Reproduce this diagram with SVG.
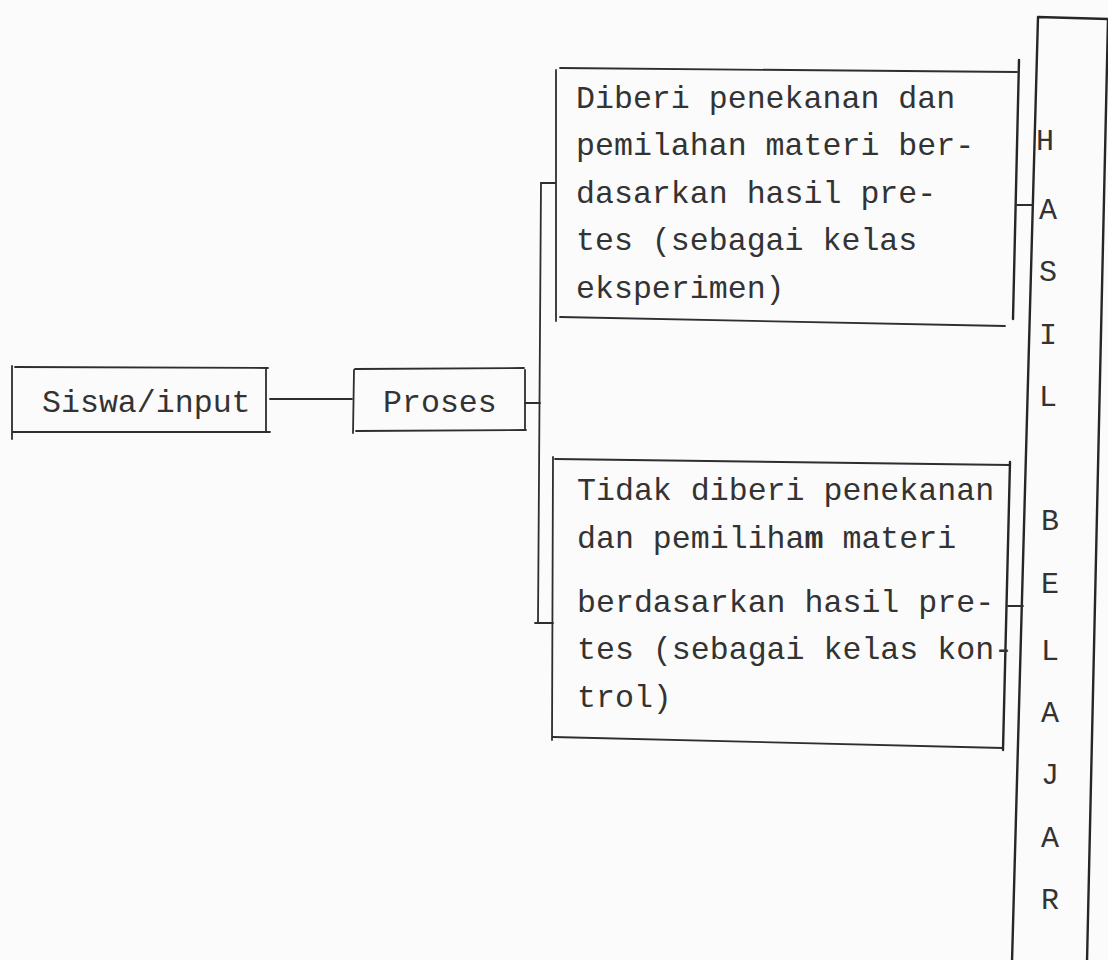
<svg xmlns="http://www.w3.org/2000/svg" width="1108" height="960" viewBox="0 0 1108 960">
<style>
.bg{fill:#fbfbfb}
.ln{stroke:#2e2e2e;stroke-width:1.8;fill:none;stroke-linecap:round}
.thick{stroke:#262626;stroke-width:2.4;fill:none;stroke-linecap:round}
.tx{font-family:"Liberation Mono","DejaVu Sans Mono",monospace;font-size:31.6px;fill:#333}
.col{font-family:"Liberation Mono","DejaVu Sans Mono",monospace;font-size:30px;fill:#333;text-anchor:middle}
</style>
<rect class="bg" x="0" y="0" width="1108" height="960"/>

<g id="node-siswa">
<path class="ln" d="M12 366 L12 439 M15 367 L268 368 M266 369 L266 431 M13 432 L270 432"/>
<text class="tx" x="42" y="412">Siswa/input</text>
</g>

<g id="node-proses">
<path class="ln" d="M354 370 L353 433 M355 369 L524 368 M525 370 L525 430 M356 431 L526 430"/>
<text class="tx" x="383" y="412">Proses</text>
</g>

<g id="node-eksperimen">
<path class="ln" d="M560 68 L1017 72 M556 70 L556 321 M1005 326 L560 317"/>
<path class="thick" d="M1019 60 L1013 319"/>
<text class="tx" x="576" y="108">Diberi penekanan dan</text>
<text class="tx" x="576" y="155">pemilahan materi ber-</text>
<text class="tx" x="576" y="203">dasarkan hasil pre-</text>
<text class="tx" x="576" y="250">tes (sebagai kelas</text>
<text class="tx" x="576" y="298">eksperimen)</text>
</g>

<g id="node-kontrol">
<path class="ln" d="M555 459 L1010 465 M553 457 L552 740 M553 737 L1003 748"/>
<path class="thick" d="M1010 462 L1003 750"/>
<text class="tx" x="577" y="500">Tidak diberi penekanan</text>
<text class="tx" x="577" y="548">dan pemiliha<tspan font-weight="700">m</tspan> materi</text>
<text class="tx" x="577" y="612">berdasarkan hasil pre-</text>
<text class="tx" x="577" y="659">tes (sebagai kelas kon-</text>
<text class="tx" x="577" y="707">trol)</text>
</g>

<g id="node-hasil-belajar">
<path class="thick" d="M1038 17 L1108 19 M1038 17 L1012 962 M1108 19 L1087 962"/>
<text class="col" x="1045" y="150">H</text>
<text class="col" x="1048" y="219">A</text>
<text class="col" x="1048" y="281">S</text>
<text class="col" x="1048" y="344">I</text>
<text class="col" x="1048" y="406">L</text>
<text class="col" x="1050" y="530">B</text>
<text class="col" x="1050" y="593">E</text>
<text class="col" x="1050" y="660">L</text>
<text class="col" x="1050" y="722">A</text>
<text class="col" x="1050" y="784">J</text>
<text class="col" x="1050" y="847">A</text>
<text class="col" x="1050" y="909">R</text>
</g>

<g id="connectors">
<path class="ln" d="M270 399 L352 399"/>
<path class="ln" d="M525 403 L540 403"/>
<path class="ln" d="M541 183 L538 623"/>
<path class="ln" d="M541 183 L555 183"/>
<path class="ln" d="M535 623 L553 623"/>
<path class="ln" d="M1017 205 L1033 205"/>
<path class="ln" d="M1008 606 L1023 606"/>
</g>
</svg>
